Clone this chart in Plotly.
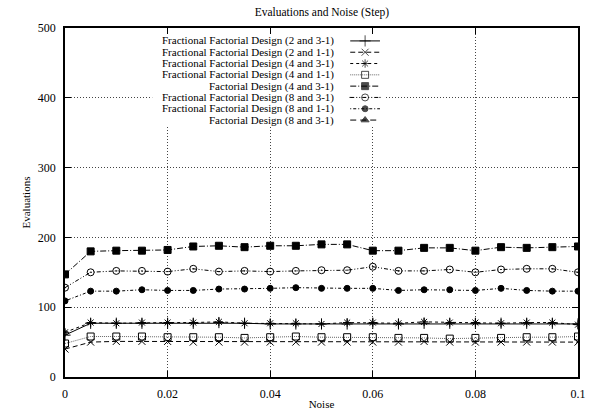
import plotly.graph_objects as go

noise = [0.0, 0.005, 0.01, 0.015, 0.02, 0.025, 0.03, 0.035, 0.04, 0.045, 0.05,
         0.055, 0.06, 0.065, 0.07, 0.075, 0.08, 0.085, 0.09, 0.095, 0.1]

names = [
    "Fractional Factorial Design (2 and 3-1)",
    "Fractional Factorial Design (2 and 1-1)",
    "Fractional Factorial Design (4 and 3-1)",
    "Fractional Factorial Design (4 and 1-1)",
    "Factorial Design (4 and 3-1)",
    "Fractional Factorial Design (8 and 3-1)",
    "Fractional Factorial Design (8 and 1-1)",
    "Factorial Design (8 and 3-1)",
]

ffd_2_31 = [60, 77, 77, 77, 77, 77, 78, 77, 76, 76, 76, 76, 77, 76, 77, 77, 77, 77, 77, 77, 76]
ffd_2_11 = [40, 50, 51, 51, 51, 50, 50, 50, 50, 50, 50, 50, 50, 50, 51, 50, 50, 50, 50, 50, 50]
ffd_4_31 = [64, 78, 77, 78, 78, 78, 79, 77, 77, 77, 76, 78, 78, 77, 79, 78, 78, 77, 78, 78, 75]
ffd_4_11 = [48, 58, 58, 58, 57, 57, 57, 56, 57, 58, 57, 57, 57, 56, 56, 55, 56, 56, 57, 57, 58]
fd_4_31 = [147, 180, 181, 181, 182, 187, 188, 186, 188, 188, 190, 190, 181, 181, 185, 185, 181, 186, 185, 186, 187]
ffd_8_31 = [128, 150, 152, 152, 151, 155, 151, 152, 151, 152, 153, 153, 158, 152, 152, 154, 150, 154, 155, 155, 150]
ffd_8_11 = [109, 123, 123, 125, 124, 124, 126, 126, 127, 128, 127, 127, 127, 124, 125, 125, 124, 127, 124, 123, 123]
fd_8_31 = []  # not visible within the plotted range

series = [ffd_2_31, ffd_2_11, ffd_4_31, ffd_4_11, fd_4_31, ffd_8_31, ffd_8_11, fd_8_31]

styles = [
    dict(dash="solid", color="black", symbol="cross-thin-open", size=8),
    dict(dash="5px,3px", color="black", symbol="x-thin-open", size=7),
    dict(dash="3px,3px", color="black", symbol="asterisk-open", size=7),
    dict(dash="1px,1px", color="#666666", symbol="square-open", size=7),
    dict(dash="6px,2px,1px,2px", color="black", symbol="square", size=7),
    dict(dash="4px,2px,1px,2px,1px,2px", color="black", symbol="circle-open-dot", size=7),
    dict(dash="1px,2px,3px,2px", color="black", symbol="circle", size=6),
    dict(dash="6px,4px", color="black", symbol="triangle-up", size=7),
]

FONT = "Liberation Serif, Times New Roman, serif"

fig = go.Figure()

# white key background (covers the grid behind the key)
box_x0, box_x1, box_y0, box_y1 = 0.17, 0.624, 0.719, 0.996
fig.add_trace(go.Scatter(
    x=[box_x0, box_x1, box_x1, box_x0, box_x0], y=[box_y0, box_y0, box_y1, box_y1, box_y0],
    mode="lines", fill="toself", fillcolor="white", line=dict(width=0, color="white"),
    showlegend=False, hoverinfo="skip", xaxis="x2", yaxis="y2",
))

for name, ys, st in zip(names, series, styles):
    if len(ys) == 0:
        continue
    fig.add_trace(go.Scatter(
        x=noise[:len(ys)], y=ys, mode="lines+markers", name=name, showlegend=False,
        line=dict(color=st["color"], width=1, dash=st["dash"]),
        marker=dict(symbol=st["symbol"], size=st["size"], color="black",
                    line=dict(color="black", width=1)),
        xaxis="x", yaxis="y",
    ))

# custom gnuplot-style key: right-aligned text, sample on the right
key_text_x = 0.526
key_x0, key_x1 = 0.556, 0.614
key_top = 0.963
key_step = 0.0324
annotations = []
for i, (name, st) in enumerate(zip(names, styles)):
    yk = key_top - i * key_step
    fig.add_trace(go.Scatter(
        x=[key_x0, (key_x0 + key_x1) / 2, key_x1], y=[yk, yk, yk],
        mode="lines+markers", showlegend=False, hoverinfo="skip",
        line=dict(color=st["color"], width=1, dash=st["dash"]),
        marker=dict(symbol=st["symbol"], size=[0, st["size"], 0], color="black",
                    line=dict(color="black", width=1)),
        xaxis="x2", yaxis="y2",
    ))
    annotations.append(dict(
        x=key_text_x, y=yk, xref="x2", yref="y2", text=name, showarrow=False,
        xanchor="right", yanchor="middle", height=11, borderpad=0, valign="middle",
        font=dict(family=FONT, size=11, color="black"),
    ))

fig.update_layout(
    width=589, height=410,
    margin=dict(l=65, r=11, t=28, b=33),
    paper_bgcolor="white", plot_bgcolor="white",
    title=dict(text="Evaluations and Noise (Step)", x=0.5465, xanchor="center",
               y=0.972, yanchor="middle", font=dict(family=FONT, size=11.5, color="black")),
    font=dict(family=FONT, size=12, color="black"),
    xaxis=dict(range=[0, 0.1], dtick=0.02, tick0=0, showgrid=True, gridcolor="#444444",
               griddash="1px,2px", gridwidth=1, showline=True, linecolor="black", linewidth=1.5,
               mirror="allticks", ticks="inside", ticklen=6, tickcolor="black",
               zeroline=False, ticklabelstandoff=5, automargin=False,
               title=dict(text="Noise", font=dict(family=FONT, size=11), standoff=4)),
    yaxis=dict(range=[0, 500], dtick=100, showgrid=True, gridcolor="#444444",
               griddash="1px,2px", gridwidth=1, showline=True, linecolor="black", linewidth=1.5,
               mirror="allticks", ticks="inside", ticklen=6, tickcolor="black",
               zeroline=False, ticklabelstandoff=5, automargin=False,
               title=dict(text="Evaluations", font=dict(family=FONT, size=11), standoff=5)),
    xaxis2=dict(range=[0, 1], overlaying="x", visible=False, fixedrange=True),
    yaxis2=dict(range=[0, 1], overlaying="y", visible=False, fixedrange=True),
    annotations=annotations,
    showlegend=False,
)

fig.write_html("out.html")
